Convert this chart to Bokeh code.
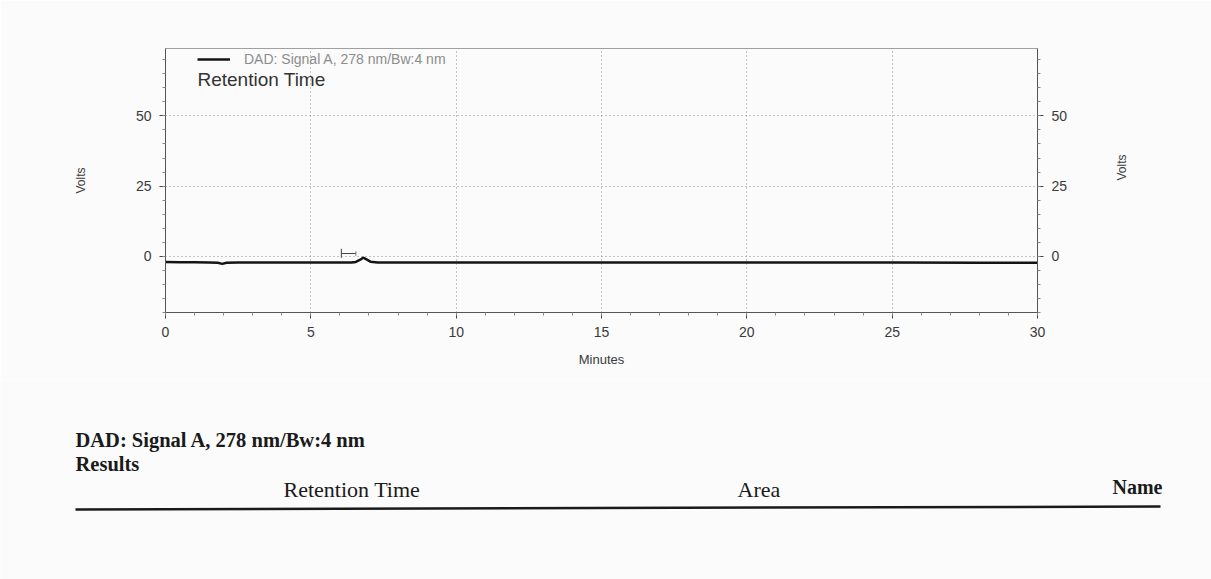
import math
from bokeh.plotting import figure
from bokeh.models import (ColumnDataSource, Range1d, LinearAxis, FixedTicker,
                          Legend, LegendItem, Label)
from bokeh.layouts import column, row
from bokeh.core.properties import value
from bokeh.embed import file_html
from bokeh.resources import INLINE

# DAD signal A, 278 nm / Bw 4 nm
time_min = [0, 0.5, 1.0, 1.5, 1.8, 1.95, 2.1, 2.5, 3, 4, 5, 6, 6.4, 6.55,
            6.7, 6.8, 6.9, 7.05, 7.3, 8, 10, 12, 15, 18, 20, 22, 25, 28, 30]
volts = [-2.0, -2.1, -2.1, -2.2, -2.3, -2.7, -2.3, -2.2, -2.2, -2.2, -2.2,
         -2.2, -2.2, -2.0, -1.2, -0.5, -1.0, -1.9, -2.2, -2.2, -2.2, -2.2,
         -2.2, -2.2, -2.2, -2.2, -2.2, -2.3, -2.3]

# integration event bracket (start / end time, level in volts)
event_start = [6.05]
event_end = [6.55]
event_level = [1.0]

x_major = [0, 5, 10, 15, 20, 25, 30]
y_major = [0, 25, 50]

signal_name = "DAD: Signal A, 278 nm/Bw:4 nm"
results_title = "Results"
column_names = ["Retention Time", "Area", "Name"]

BG = "#fbfbfb"
SANS = "Liberation Sans"
SERIF = "Liberation Serif"

LEFT, RIGHT, TOP, BOTTOM = 165, 1037, 48, 312
W, H, H1 = 1211, 579, 380

p = figure(width=W, height=H1, x_range=Range1d(0, 30), y_range=Range1d(-20, 74),
           output_backend="svg", toolbar_location=None,
           min_border_left=LEFT, min_border_right=W - RIGHT,
           min_border_top=TOP, min_border_bottom=H1 - BOTTOM,
           background_fill_color=BG, border_fill_color=BG)
p.outline_line_color = "#a0a0a0"
p.outline_line_width = 1

src = ColumnDataSource(dict(t=time_min, v=volts))
sig = p.line("t", "v", source=src, line_color="#141414", line_width=2.5)

ev = ColumnDataSource(dict(x0=event_start, x1=event_end, y=event_level,
                           ylo=[l - 1.5 for l in event_level],
                           yhi=[l + 1.7 for l in event_level],
                           yhi2=[l + 0.8 for l in event_level],
                           ylo2=[l - 0.8 for l in event_level]))
p.segment(x0="x0", y0="y", x1="x1", y1="y", source=ev, line_color="#444", line_width=1)
p.segment(x0="x0", y0="ylo", x1="x0", y1="yhi", source=ev, line_color="#444", line_width=1)
p.segment(x0="x1", y0="ylo2", x1="x1", y1="yhi2", source=ev, line_color="#777", line_width=1)

xt = FixedTicker(ticks=x_major, minor_ticks=list(range(0, 31)))
yt = FixedTicker(ticks=y_major, minor_ticks=list(range(-20, 75, 5)))
p.xaxis.ticker = xt
p.yaxis.ticker = yt

right = LinearAxis(ticker=yt, axis_label="Volts")
p.add_layout(right, "right")

for ax in [p.xaxis[0], p.yaxis[0], right]:
    ax.axis_line_color = "#555"
    ax.axis_line_width = 1
    ax.major_tick_line_color = "#444"
    ax.minor_tick_line_color = "#888"
    ax.major_tick_out = 6
    ax.major_tick_in = 0
    ax.minor_tick_out = 3
    ax.minor_tick_in = 0
    ax.major_label_text_font = SANS
    ax.major_label_text_font_size = "14px"
    ax.major_label_text_color = "#3a3a3a"
    ax.major_label_standoff = 8
    ax.axis_label_text_font = SANS
    ax.axis_label_text_font_size = "12px"
    ax.axis_label_text_font_style = "normal"
    ax.axis_label_text_color = "#3a3a3a"

p.xaxis.axis_label = "Minutes"
p.xaxis.axis_label_text_font_size = "13px"
p.xaxis.axis_label_standoff = 12
p.yaxis.axis_label = "Volts"
p.yaxis[0].axis_label_standoff = 45
right.axis_label_standoff = 52
right.axis_label_orientation = math.pi / 2

p.xgrid.ticker = FixedTicker(ticks=[5, 10, 15, 20, 25])
p.ygrid.ticker = FixedTicker(ticks=y_major)
p.grid.grid_line_color = "#8a8a8a"
p.grid.grid_line_dash = "1 3"
p.grid.grid_line_width = 1

legend = Legend(items=[LegendItem(label=signal_name, renderers=[sig])],
                location=(32, 245), padding=0, margin=0, spacing=0,
                glyph_width=33, glyph_height=14, label_height=14,
                label_standoff=14, label_text_font=SANS,
                label_text_font_size="14px", label_text_color="#8c8c8c",
                border_line_color=None, background_fill_alpha=0)
p.add_layout(legend)

p.add_layout(Label(x=1.1, y=63, text="Retention Time", text_font=SANS,
                   text_font_size="19px", text_color="#333",
                   text_baseline="middle"))

# results table header, page coordinates (y grows downwards)
q = figure(width=W, height=H - H1, x_range=Range1d(0, W), y_range=Range1d(H, H1),
           output_backend="svg", toolbar_location=None, min_border=0,
           min_border_left=0, min_border_right=0, min_border_top=0, min_border_bottom=0,
           background_fill_color=BG, border_fill_color=BG)
q.axis.visible = False
q.grid.visible = False
q.outline_line_color = None

q.text(x=[75, 75], y=[439, 463], text=[signal_name, results_title],
       text_font=value(SERIF), text_font_style="bold", text_font_size="20.5px",
       text_color="#1a1a1a", text_baseline="middle", text_align="left")
q.text(x=[283, 737], y=[489, 489], text=column_names[:2],
       text_font=value(SERIF), text_font_size="22px",
       text_color="#1a1a1a", text_baseline="middle", text_align="left")
q.text(x=[1112], y=[486], text=column_names[2:],
       text_font=value(SERIF), text_font_style="bold", text_font_size="20px",
       text_color="#1a1a1a", text_baseline="middle", text_align="left")
q.segment(x0=[75], y0=[509], x1=[1160], y1=[506], line_color="#1a1a1a", line_width=2.5)

layout = column(p, row(q), spacing=0)
open("out.html", "w").write(file_html(layout, INLINE))
